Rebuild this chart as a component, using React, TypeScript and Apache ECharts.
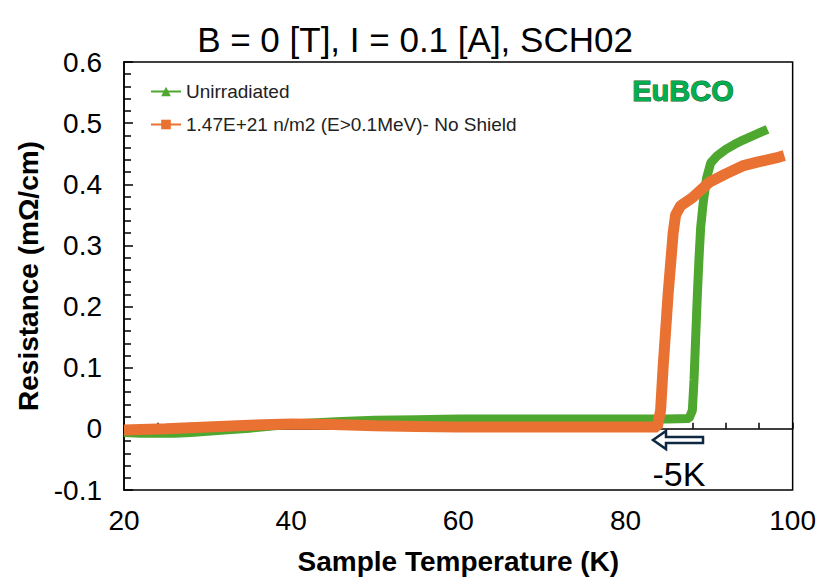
import React, { useEffect, useRef } from "react";
import * as echarts from "echarts";

const seriesNames = ["Unirradiated", "1.47E+21 n/m2 (E>0.1MeV)- No Shield"];

const unirradiated: [number, number][] = [
  [20, -0.006], [22, -0.007], [24, -0.007], [26, -0.007], [28, -0.006], [30, -0.004],
  [32, -0.002], [35, 0.001], [38, 0.005], [40, 0.008], [43, 0.01], [46, 0.012],
  [50, 0.014], [55, 0.015], [60, 0.016], [65, 0.016], [70, 0.016], [75, 0.016],
  [80, 0.016], [85, 0.016], [87.6, 0.017], [88.0, 0.03], [88.2, 0.08], [88.4, 0.15],
  [88.6, 0.22], [88.8, 0.28], [89.0, 0.33], [89.3, 0.37], [89.7, 0.41], [90.2, 0.435],
  [91, 0.447], [92, 0.457], [93, 0.465], [94, 0.472], [95, 0.478], [96, 0.484], [97, 0.49],
];

const irradiated: [number, number][] = [
  [20, -0.002], [25, 0.0], [30, 0.003], [35, 0.006], [40, 0.008], [45, 0.007],
  [50, 0.005], [55, 0.004], [60, 0.003], [70, 0.003], [80, 0.003], [83.8, 0.003],
  [84.2, 0.03], [84.5, 0.1], [84.8, 0.16], [85.1, 0.22], [85.4, 0.27], [85.7, 0.32],
  [86.0, 0.35], [86.6, 0.365], [88, 0.378], [90, 0.403], [92, 0.417], [94, 0.43],
  [96, 0.437], [98, 0.443], [99, 0.447],
];

const xRange = { min: 20, max: 100, step: 20 };
const yRange = { min: -0.1, max: 0.6, step: 0.1 };

const titleText = "B = 0 [T], I = 0.1 [A], SCH02";
const xName = "Sample Temperature (K)";
const yName = "Resistance (mΩ/cm)";
const materialLabel = "EuBCO";
const shiftLabel = "-5K";

const FONT = "'Liberation Sans', Arial, sans-serif";
const GREEN = "#4EA72E";
const ORANGE = "#E97132";

export default function App() {
  const ref = useRef<HTMLDivElement>(null);
  useEffect(() => {
    document.body.style.margin = "0";
    if (!ref.current) return;
    const chart = echarts.init(ref.current, null, { renderer: "svg" });
    chart.setOption({
      animation: false,
      backgroundColor: "#fff",
      textStyle: { fontFamily: FONT },
      grid: {
        left: 124, right: 26, top: 62, bottom: 96,
        show: true, borderColor: "#000", borderWidth: 1.5,
      },
      legend: {
        orient: "vertical", left: 150, top: 82, itemGap: 14, padding: 0,
        itemWidth: 30, itemHeight: 12,
        textStyle: { fontSize: 19, color: "#222", fontFamily: FONT },
        lineStyle: { width: 2 },
        data: [{ name: seriesNames[0] }, { name: seriesNames[1] }],
      },
      xAxis: [
        {
          type: "value", min: xRange.min, max: xRange.max, interval: xRange.step,
          position: "bottom",
          axisLine: { show: false, onZero: false },
          axisTick: { show: false },
          splitLine: { show: false },
          axisLabel: { fontSize: 28, color: "#000", margin: 16, fontFamily: FONT },
          name: xName, nameLocation: "middle", nameGap: 57,
          nameTextStyle: { fontSize: 28, fontWeight: "bold", color: "#000", fontFamily: FONT },
        },
        {
          type: "value", min: xRange.min, max: xRange.max, interval: xRange.step,
          position: "top",
          axisLine: { show: true, onZero: true, lineStyle: { color: "#000", width: 1.5 } },
          axisTick: { show: true, inside: false, length: 6, lineStyle: { color: "#000", width: 1.5 } },
          minorTick: { show: true, splitNumber: 5, length: 6, lineStyle: { color: "#000", width: 1.5 } },
          axisLabel: { show: false },
          splitLine: { show: false },
        },
      ],
      yAxis: {
        type: "value", min: yRange.min, max: yRange.max, interval: yRange.step,
        axisLine: { show: true, onZero: false, lineStyle: { color: "#000", width: 1.5 } },
        axisTick: { show: true, inside: true, length: 9, lineStyle: { color: "#000", width: 1.5 } },
        minorTick: { show: true, splitNumber: 5, length: 7, lineStyle: { color: "#000", width: 1.5 } },
        splitLine: { show: false },
        axisLabel: {
          fontSize: 28, color: "#000", margin: 22, fontFamily: FONT,
          formatter: (v: number) => (Math.abs(v) < 1e-9 ? "0" : v.toFixed(1)),
        },
        name: yName, nameLocation: "middle", nameGap: 78,
        nameTextStyle: { fontSize: 28, fontWeight: "bold", color: "#000", fontFamily: FONT },
      },
      series: [
        {
          name: seriesNames[0], type: "line", xAxisIndex: 0, data: unirradiated,
          symbol: "triangle", symbolSize: 9, showSymbol: false,
          lineStyle: { width: 9, color: GREEN }, itemStyle: { color: GREEN },
        },
        {
          name: seriesNames[1], type: "line", xAxisIndex: 0, data: irradiated,
          symbol: "rect", symbolSize: 9, showSymbol: false,
          lineStyle: { width: 11, color: ORANGE }, itemStyle: { color: ORANGE },
        },
      ],
      graphic: [
        {
          type: "text", x: 415, y: 39,
          style: { text: titleText, fontSize: 35, fill: "#000", fontFamily: FONT, textAlign: "center", textVerticalAlign: "middle" },
        },
        {
          type: "text", x: 683, y: 91,
          style: {
            text: materialLabel, fontSize: 29, fontWeight: "bold", fill: "#00B050",
            stroke: "#1d5c2c", lineWidth: 1, fontFamily: FONT, textAlign: "center", textVerticalAlign: "middle",
          },
        },
        {
          type: "polygon",
          shape: { points: [[653, 440], [666, 431], [666, 437], [703, 437], [703, 443], [666, 443], [666, 449]] },
          style: { fill: "#fff", stroke: "#0E2841", lineWidth: 2.5 },
          z: 10,
        },
        {
          type: "text", x: 679, y: 474,
          style: { text: shiftLabel, fontSize: 34, fill: "#000", fontFamily: FONT, textAlign: "center", textVerticalAlign: "middle" },
        },
      ],
    });
    return () => chart.dispose();
  }, []);
  return <div ref={ref} style={{ width: 819, height: 586 }} />;
}
